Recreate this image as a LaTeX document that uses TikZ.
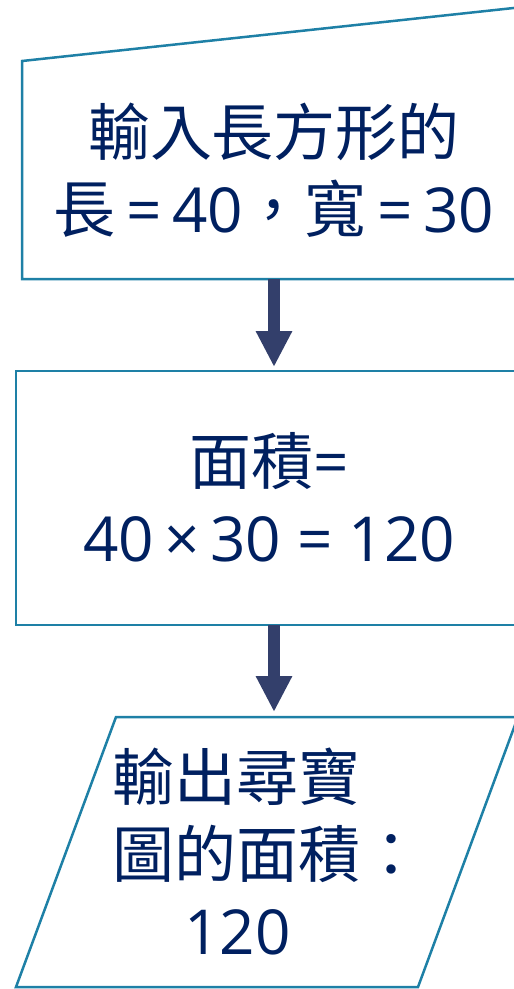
\documentclass[tikz,border=0pt]{standalone}
\usepackage{fontspec}
\setmainfont{Open Sans}
\newfontfamily\cjk{Noto Sans CJK TC}
\usetikzlibrary{arrows.meta}
\definecolor{edgeteal}{RGB}{30,128,166}
\definecolor{txtnavy}{RGB}{0,32,96}
\definecolor{arrnavy}{RGB}{51,63,107}
\tikzset{
  shapeline/.style={draw=edgeteal,line width=2.5pt,line join=miter},
  lbl/.style={text=txtnavy,font=\fontsize{62}{77}\selectfont,inner sep=0pt,align=center},
  flowarrow/.style={draw=arrnavy,line width=12pt,-{Triangle[width=34pt,length=36pt]}}
}
\begin{document}
\begin{tikzpicture}[x=1pt,y=-1pt]
\useasboundingbox (0,0) rectangle (514,989);
\begin{scope}
\clip (0,0) rectangle (514,989);
% manual input shape
\path[shapeline] (560,3) -- (22,61) -- (22,279) -- (560,279);
% process rectangle
\path[shapeline] (560,371) -- (16,371) -- (16,625) -- (560,625);
% output parallelogram
\path[shapeline] (560,717) -- (116,717) -- (16,987) -- (418,987) -- (522,706);
\end{scope}
\node[lbl] (t1) at (274,170) {{\cjk 輸入長方形的}\\{\cjk 長}\,=\,40{\cjk ，寬}\,=\,30};
\node[lbl] (t2) at (269,497) {{\cjk 面積}=\\40\,×\,30 = 120};
\node[lbl,align=left,anchor=west] (t3) at (112,852) {{\cjk 輸出尋寶}\\{\cjk 圖的面積：}\\\hspace*{72pt}120};
\coordinate (b1s) at (274,279);
\coordinate (b2n) at (274,367);
\coordinate (b2s) at (274,625);
\coordinate (b3n) at (274,712);
\draw[flowarrow] (b1s) -- (b2n);
\draw[flowarrow] (b2s) -- (b3n);
\end{tikzpicture}
\end{document}
